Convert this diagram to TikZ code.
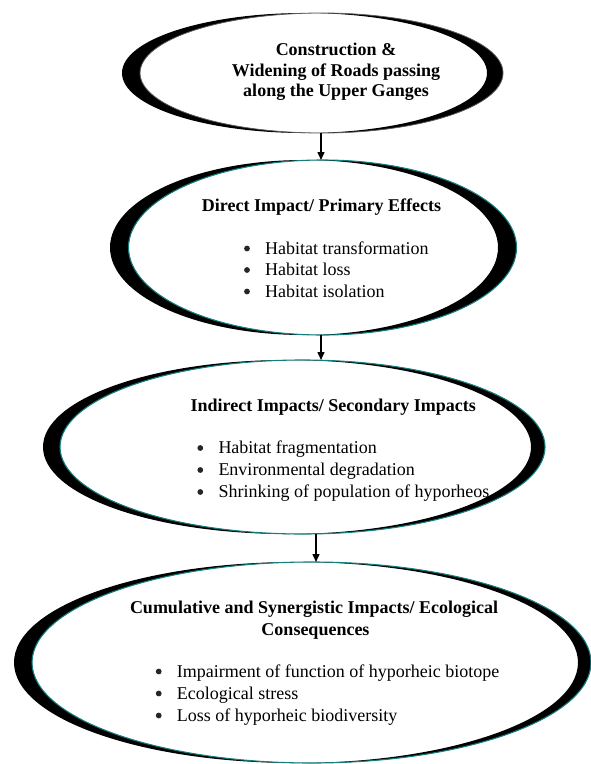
\documentclass[tikz,border=0pt]{standalone}
\usepackage{fontspec}
\setmainfont{Liberation Serif}
\usetikzlibrary{shapes.geometric,arrows.meta}
\definecolor{rim}{RGB}{20,125,125}
\definecolor{rimgray}{RGB}{90,90,90}
\begin{document}
\begin{tikzpicture}[x=1pt,y=-1pt,
  rimE/.style={ellipse, draw=rim, line width=1.1pt, inner sep=0pt, outer sep=0pt},
  shade/.style={fill=black, even odd rule},
  ttl/.style={font=\bfseries\fontsize{18}{21}\selectfont, anchor=base, inner sep=0pt},
  itm/.style={font=\fontsize{18}{21}\selectfont, anchor=base west, inner sep=0pt},
  dot/.style={fill=black!85},
  arr/.style={-{Triangle[length=8pt,width=7pt]}, line width=1.4pt}]
\useasboundingbox (0,0) rectangle (591,764);

% ellipse 1
\path[shade] (304.5,73) ellipse [x radius=182.5, y radius=60] (321.5,73) ellipse [x radius=181.5, y radius=60];
\node[rimE, draw=rimgray, line width=0.8pt, minimum width=363pt, minimum height=120pt] (e1) at (321.5,73) {};
% ellipse 2
\path[shade] (304,247.5) ellipse [x radius=194, y radius=87.5] (322.5,247.5) ellipse [x radius=194, y radius=87.5];
\node[rimE, minimum width=388pt, minimum height=175pt] (e2) at (322.5,247.5) {};
% ellipse 3
\path[shade] (287,447) ellipse [x radius=244, y radius=87] (302.5,447) ellipse [x radius=242.5, y radius=87];
\node[rimE, minimum width=485pt, minimum height=174pt] (e3) at (302.5,447) {};
% ellipse 4
\path[shade] (296,662.5) ellipse [x radius=282, y radius=100.5] (311.5,662.5) ellipse [x radius=279.5, y radius=100.5];
\node[rimE, minimum width=559pt, minimum height=201pt] (e4) at (311.5,662.5) {};

% texts
\node[ttl] (e1a) at (336,55) {Construction \&};
\node[ttl] (e1b) at (336,76) {Widening of Roads passing};
\node[ttl] (e1c) at (336,96.5) {along the Upper Ganges};

\node[ttl] (e2t) at (321.5,211.5) {Direct Impact/ Primary Effects};
\node[itm] (e2a) at (265,254) {Habitat transformation};
\node[itm] (e2b) at (265,275.5) {Habitat loss};
\node[itm] (e2c) at (265,297) {Habitat isolation};

\node[ttl] (e3t) at (333.3,411.7) {Indirect Impacts/ Secondary Impacts};
\node[itm] (e3a) at (218.3,453.5) {Habitat fragmentation};
\node[itm] (e3b) at (218.3,475.5) {Environmental degradation};
\node[itm] (e3c) at (218.3,497.5) {Shrinking of population of hyporheos};

\node[ttl] (e4t) at (314,613.3) {Cumulative and Synergistic Impacts/ Ecological};
\node[ttl] (e4u) at (315.5,635) {Consequences};
\node[itm] (e4a) at (176.7,677) {Impairment of function of hyporheic biotope};
\node[itm] (e4b) at (176.7,699) {Ecological stress};
\node[itm] (e4c) at (176.7,721) {Loss of hyporheic biodiversity};

% bullets
\foreach \n in {e2a,e2b,e2c,e3a,e3b,e3c,e4a,e4b,e4c}
  \fill[dot] ([xshift=-18pt,yshift=5.5pt]\n.base west) circle (2.9pt);

% connectors
\coordinate (ax1) at (321,0);
\coordinate (ax3) at (316,0);
\draw[arr] (e1.south -| ax1) -- (e2.north -| ax1);
\draw[arr] (e2.south -| ax1) -- (e3.north -| ax1);
\draw[arr] (e3.south -| ax3) -- (e4.north -| ax3);
\end{tikzpicture}
\end{document}
